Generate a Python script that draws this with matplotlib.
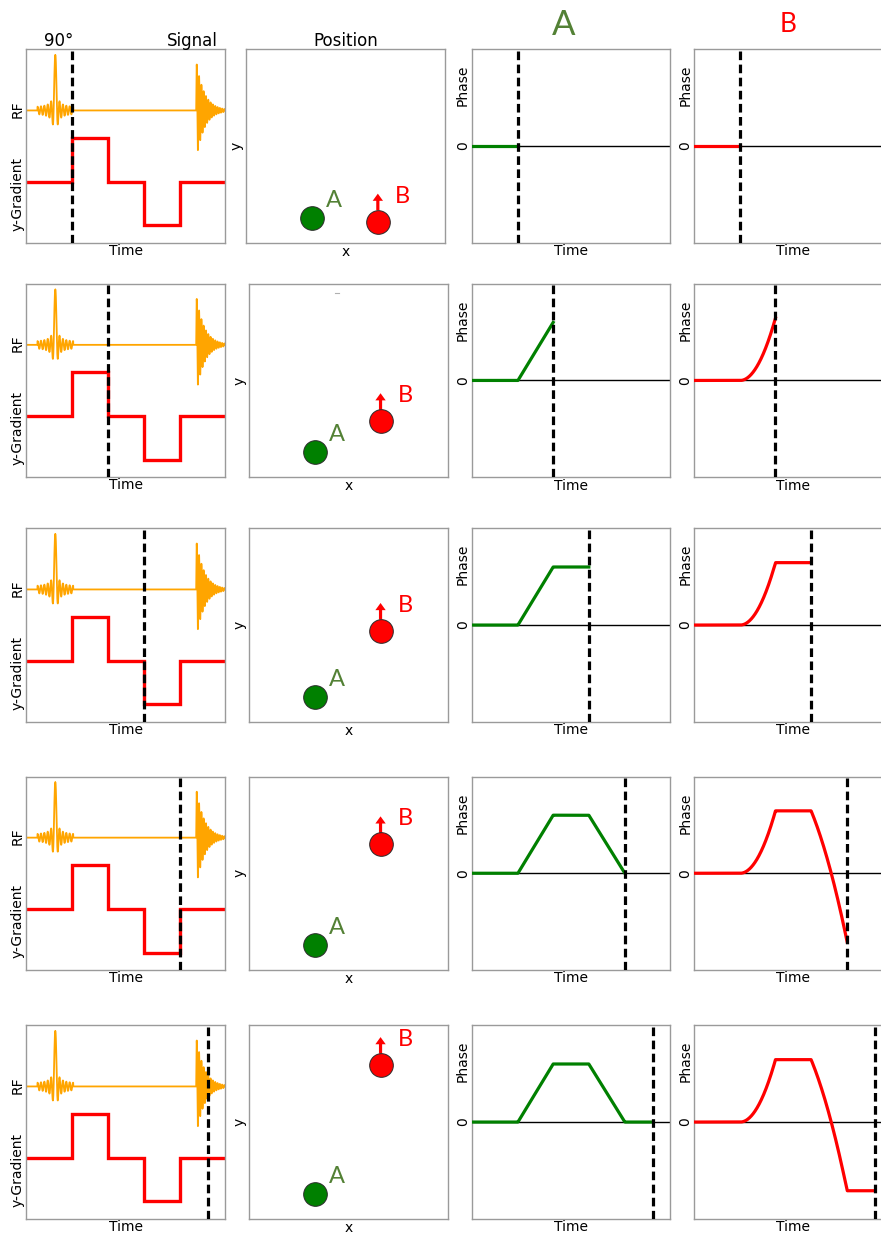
import numpy as np
import matplotlib
matplotlib.use("Agg")
import matplotlib.pyplot as plt

# ---- sequence timing (fraction of the time window) ----
rf_center = 0.146
lobe_edges = [0.0, 0.232, 0.41, 0.59, 0.772, 1.0]
grad_amp = [0, 1, 0, -1, 0]
echo_start = 0.855
snapshot_times = [0.232, 0.41, 0.59, 0.772, 0.913]

# ---- spin positions at each snapshot ----
pos_A_x = 0.33
pos_A_y = 0.13
pos_B_x = 0.662
pos_B_y = [0.11, 0.29, 0.47, 0.65, 0.795]

# ---- accumulated phase at the gradient lobe edges ----
phase_A = [0.0, 0.0, 0.60, 0.60, 0.0, 0.0]
phase_B = [0.0, 0.0, 0.645, 0.645, -0.71, -0.71]
# segment shape: 1 = linear, 0 = quadratic ease-in (moving spin)
shape_A = [1, 1, 1, 1, 1]
shape_B = [1, 0, 1, 0.667, 1]

W, H = 881, 1235
fig = plt.figure(figsize=(W / 100, H / 100), dpi=100)

row_tops = [49.3, 283.7, 528.3, 776.5, 1025.3]
row_h = 193.5
col_left = [26.3, 249.0, 472.0, 694.3]
col_w = [198.7, 198.7, 198.0, 198.0]

SPINE = "#9a9a9a"
GREEN_TXT = "#538135"


def add_axes(left, top, w, h):
    ax = fig.add_axes([left / W, 1 - (top + h) / H, w / W, h / H])
    ax.set_xticks([])
    ax.set_yticks([])
    for s in ax.spines.values():
        s.set_color(SPINE)
        s.set_linewidth(1.0)
    return ax


def phase_curve(t, edges, levels, shapes):
    out = np.zeros_like(t)
    for k in range(len(edges) - 1):
        a, b = edges[k], edges[k + 1]
        m = (t >= a) & (t <= b)
        u = (t[m] - a) / (b - a)
        s = shapes[k]
        out[m] = levels[k] + (levels[k + 1] - levels[k]) * (s * u + (1 - s) * u ** 2)
    return out


def dashed(ax, x):
    ax.axvline(x, color="black", lw=2.3, linestyle=(0, (2.7, 1.4)), zorder=5)


# RF waveform: sinc-like excitation pulse and the decaying echo
t = np.linspace(0, 1, 8000)
rf_base = 0.684
rf = np.full_like(t, rf_base)
m = np.abs(t - rf_center) <= 0.09
x = (t[m] - rf_center) / 0.0085
rf[m] += 0.285 * np.sinc(x) * (1 + 0.12 * np.abs(x))
m = t >= echo_start
s = t[m] - echo_start
rf[m] += 0.255 * np.exp(-s / 0.04) * np.sin(2 * np.pi * s / 0.0116)

grad_base = 0.316
grad_scale = 0.226

for r, tn in enumerate(snapshot_times):
    top = row_tops[r]

    # --- pulse sequence ---
    ax = add_axes(col_left[0], top, col_w[0], row_h)
    ax.set_xlim(0, 1)
    ax.set_ylim(0, 1)
    ax.plot(t, rf, color="#FFA500", lw=1.3)
    ax.stairs(grad_base + grad_scale * np.array(grad_amp), lobe_edges,
              baseline=None, color="red", lw=2.4)
    dashed(ax, tn)
    ax.text(-0.046, 0.69, "RF", rotation=90, ha="center", va="center",
            fontsize=10, transform=ax.transAxes)
    ax.text(-0.046, 0.254, "y-Gradient", rotation=90, ha="center", va="center",
            fontsize=10, transform=ax.transAxes)
    ax.text(0.5, -12 / row_h, "Time", ha="center", va="baseline",
            fontsize=10, transform=ax.transAxes)
    if r == 0:
        ax.text((58.3 - col_left[0]) / col_w[0], 1 + 3.6 / row_h, "90°",
                ha="center", va="baseline", fontsize=12, transform=ax.transAxes)
        ax.text((192.5 - col_left[0]) / col_w[0], 1 + 3.6 / row_h, "Signal",
                ha="center", va="baseline", fontsize=12, transform=ax.transAxes)

    # --- positions ---
    left2 = 246.3 if r == 0 else col_left[1]
    ax = add_axes(left2, top, col_w[1], row_h)
    ax.set_xlim(0, 1)
    ax.set_ylim(0, 1)
    yb = pos_B_y[r]
    ax.scatter([pos_A_x], [pos_A_y], s=290, color="green",
               edgecolor="#2b2b2b", linewidth=0.7, zorder=3)
    ax.scatter([pos_B_x], [yb], s=290, color="red",
               edgecolor="#2b2b2b", linewidth=0.7, zorder=3)
    ax.arrow(pos_B_x, yb + 0.058, 0, 0.086, width=0.016, head_width=0.052,
             head_length=0.037, length_includes_head=True, color="red", lw=0,
             zorder=2)
    ax.text(pos_A_x + 0.113, pos_A_y + 0.055, "A", color=GREEN_TXT,
            fontsize=17, family="Lato", ha="center", va="baseline")
    ax.text(pos_B_x + 0.125, yb + 0.098, "B", color="red",
            fontsize=17, family="Lato", ha="center", va="baseline")
    ax.text(-0.05, 0.5, "y", rotation=90, ha="center", va="center",
            fontsize=10, transform=ax.transAxes)
    ax.text(0.5, -13 / row_h, "x", ha="center", va="baseline",
            fontsize=10, transform=ax.transAxes)
    if r == 0:
        ax.text(0.5, 1 + 3.6 / row_h, "Position", ha="center", va="baseline",
                fontsize=12, transform=ax.transAxes)
    if r == 1:
        ax.plot([0.435, 0.452], [0.95, 0.95], color="#b0b0b0", lw=0.8)

    # --- phase of A and B ---
    for c, levels, shapes, col in ((2, phase_A, shape_A, "green"),
                                   (3, phase_B, shape_B, "red")):
        ax = add_axes(col_left[c], top, col_w[c], row_h)
        ax.set_xlim(0, 1)
        ax.set_ylim(-1, 1)
        ax.axhline(0, color="black", lw=1.0, zorder=1)
        tt = np.linspace(0, tn, 600)
        ax.plot(tt, phase_curve(tt, lobe_edges, levels, shapes),
                color=col, lw=2.3, zorder=3)
        dashed(ax, tn)
        ax.text(-0.045, 0.5, "0", rotation=90, ha="center", va="center",
                fontsize=10, transform=ax.transAxes)
        ax.text(-0.045, 0.812, "Phase", rotation=90, ha="center", va="center",
                fontsize=10, transform=ax.transAxes)
        ax.text(0.5, -12.5 / row_h, "Time", ha="center", va="baseline",
                fontsize=10, transform=ax.transAxes)

# column headers
fig.text(563.3 / W, 1 - 35 / H, "A", color=GREEN_TXT, fontsize=25,
         family="Lato", ha="center", va="baseline")
fig.text(788.3 / W, 1 - 32.3 / H, "B", color="red", fontsize=19,
         family="Lato", ha="center", va="baseline")

fig.savefig("out.png", dpi=100)
